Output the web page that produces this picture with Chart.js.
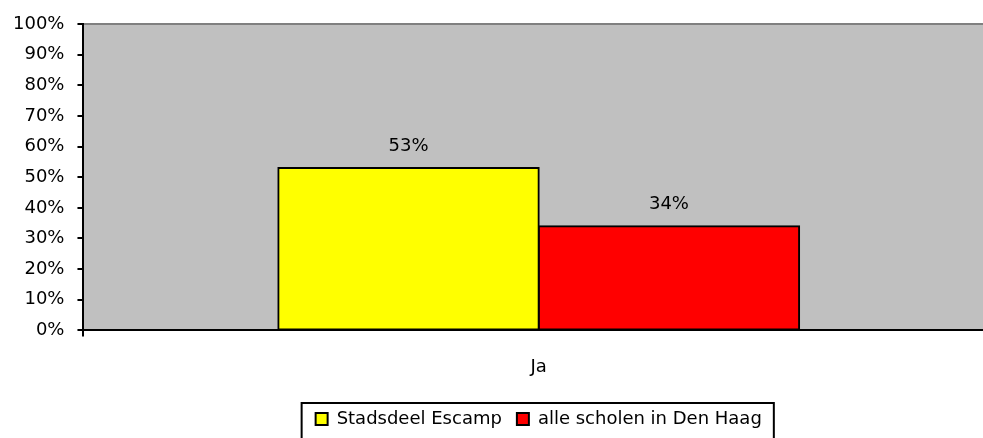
<!DOCTYPE html>
<html lang="nl">
  <head>
    <meta charset="UTF-8" />
    <title>Ja</title>
    <script src="https://cdn.jsdelivr.net/npm/chart.js@4.4.1/dist/chart.umd.min.js"></script>
    <style>
      html,
      body {
        margin: 0;
        padding: 0;
        background: #fff;
        overflow: hidden;
      }
      .chart-container {
        width: 996px;
        height: 450px;
      }
    </style>
  </head>
  <body>
    <div class="chart-container">
      <canvas id="chart"></canvas>
    </div>
  </body>
  <script>
    const categories = ["Ja"];
    const escamp = [53];
    const denHaag = [34];
    const seriesNames = ["Stadsdeel Escamp", "alle scholen in Den Haag"];

    Chart.defaults.font.family = "'DejaVu Sans', Verdana, sans-serif";
    Chart.defaults.font.size = 18;
    Chart.defaults.color = "#000";

    // grey plot background + top border like the old excel chart
    const plotArea = {
      id: "plotArea",
      beforeDraw(chart) {
        const { ctx, chartArea: a } = chart;
        ctx.save();
        ctx.fillStyle = "#c0c0c0";
        ctx.fillRect(a.left, a.top, a.right - a.left, a.bottom - a.top);
        ctx.strokeStyle = "#808080";
        ctx.lineWidth = 2;
        ctx.beginPath();
        ctx.moveTo(a.left, a.top);
        ctx.lineTo(a.right, a.top);
        ctx.lineTo(a.right, a.bottom);
        ctx.stroke();
        ctx.restore();
      },
    };

    // value labels above the bars
    const valueLabels = {
      id: "valueLabels",
      afterDatasetsDraw(chart) {
        const { ctx } = chart;
        ctx.save();
        ctx.font = "18px 'DejaVu Sans', Verdana, sans-serif";
        ctx.fillStyle = "#000";
        ctx.textAlign = "center";
        ctx.textBaseline = "middle";
        chart.data.datasets.forEach((ds, i) => {
          chart.getDatasetMeta(i).data.forEach((bar, j) => {
            ctx.fillText(ds.data[j] + "%", bar.x, bar.y - 22);
          });
        });
        ctx.restore();
      },
    };

    // box around the legend
    const legendBox = {
      id: "legendBox",
      afterDraw(chart) {
        const boxes = chart.legend.legendHitBoxes;
        if (!boxes || !boxes.length) return;
        const first = boxes[0];
        const last = boxes[boxes.length - 1];
        const ctx = chart.ctx;
        const mid = first.top + first.height / 2;
        ctx.save();
        ctx.strokeStyle = "#000";
        ctx.lineWidth = 2;
        ctx.strokeRect(
          first.left - 14,
          mid - 16,
          last.left + last.width - first.left + 26,
          44
        );
        ctx.restore();
      },
    };

    new Chart(document.getElementById("chart"), {
      type: "bar",
      data: {
        labels: categories,
        datasets: [
          {
            label: seriesNames[0],
            data: escamp,
            backgroundColor: "#ffff00",
            borderColor: "#000",
            borderWidth: 2,
            borderSkipped: false,
            inflateAmount: 1,
          },
          {
            label: seriesNames[1],
            data: denHaag,
            backgroundColor: "#ff0000",
            borderColor: "#000",
            borderWidth: 2,
            borderSkipped: false,
            inflateAmount: 1,
          },
        ],
      },
      options: {
        responsive: true,
        maintainAspectRatio: false,
        animation: false,
        categoryPercentage: 0.572,
        barPercentage: 1,
        layout: { padding: { top: 24, left: 0, right: 2, bottom: 12 } },
        plugins: {
          tooltip: { enabled: false },
          legend: {
            position: "bottom",
            fullSize: false,
            labels: {
              boxWidth: 12,
              boxHeight: 12,
              padding: 15,
              font: { size: 18 },
              color: "#000",
            },
          },
        },
        scales: {
          x: {
            grid: {
              drawOnChartArea: false,
              color: "#000",
              lineWidth: 2,
              tickLength: 6,
            },
            border: { color: "#000", width: 2 },
            ticks: { padding: 20 },
            afterFit: (s) => {
              s.height -= 3;
            },
          },
          y: {
            min: 0,
            max: 100,
            grid: {
              drawOnChartArea: false,
              color: "#000",
              lineWidth: 2,
              tickLength: 6,
            },
            border: { color: "#000", width: 2 },
            ticks: {
              stepSize: 10,
              padding: 13,
              callback: (v) => v + "%",
            },
          },
        },
      },
      plugins: [plotArea, valueLabels, legendBox],
    });
  </script>
</html>
